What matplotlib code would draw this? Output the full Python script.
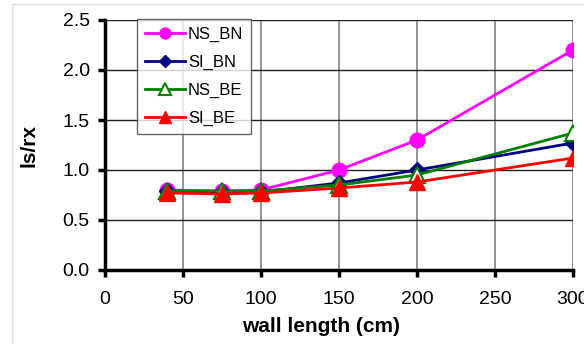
import matplotlib
matplotlib.use('Agg')
import matplotlib.pyplot as plt
from matplotlib.patches import Rectangle

plt.rcParams['font.family'] = ['Liberation Sans', 'DejaVu Sans']

# Data
wall_length = [40, 75, 100, 150, 200, 300]
ns_bn = [0.80, 0.79, 0.80, 1.00, 1.30, 2.20]
si_bn = [0.79, 0.78, 0.78, 0.87, 1.00, 1.27]
ns_be = [0.79, 0.79, 0.79, 0.85, 0.95, 1.37]
si_be = [0.77, 0.76, 0.77, 0.82, 0.88, 1.12]

x_ticks = [0, 50, 100, 150, 200, 250, 300]
y_ticks = [0.0, 0.5, 1.0, 1.5, 2.0, 2.5]

fig = plt.figure(figsize=(5.84, 3.44), dpi=100)
ax = fig.add_axes([105/584, 74/344, 468/584, 250/344])

# light outer frame
fig.patches.append(Rectangle((12/584, -0.1), 1.2, 340/344 + 0.1,
                             transform=fig.transFigure, fill=False,
                             edgecolor='#e0e0e0', lw=1))

ax.plot(wall_length, ns_bn, color='#ff00ff', marker='o', ms=10.5, lw=2, label='NS_BN', zorder=3)
ax.plot(wall_length, si_bn, color='#000080', marker='D', ms=8.5, lw=2, label='SI_BN', zorder=4)
ax.plot(wall_length, ns_be, color='#008000', marker='^', ms=11, lw=2, mfc='white',
        mew=1.5, label='NS_BE', zorder=5)
ax.plot(wall_length, si_be, color='#ff0000', marker='^', ms=12, lw=2, label='SI_BE', zorder=6)

ax.set_xlim(0, 300)
ax.set_ylim(0, 2.5)
ax.set_xticks(x_ticks)
ax.set_yticks(y_ticks)
ax.set_yticklabels([f'{v:.1f}' for v in y_ticks])
ax.tick_params(labelsize=14, width=2.5, length=5, direction='out', pad=6)
ax.tick_params(axis='x', pad=10)

ax.xaxis.grid(True, color='#808080', lw=1.2)
ax.yaxis.grid(True, color='#202020', lw=1)
ax.set_axisbelow(True)
ax.spines['top'].set_visible(False)
ax.spines['right'].set_visible(False)
ax.spines['left'].set_linewidth(2.5)
ax.spines['bottom'].set_linewidth(2.5)

ax.set_xlabel('wall length (cm)', fontsize=15, fontweight='bold')
ax.xaxis.label.set_va('center')
ax.xaxis.set_label_coords(0.4615, -(326 - 270)/250, transform=ax.transAxes)
ax.set_ylabel('ls/rx', fontsize=15, fontweight='bold')
ax.yaxis.label.set_va('center')
ax.yaxis.set_label_coords((29 - 105)/468, 0.5, transform=ax.transAxes)

leg = ax.legend(loc='upper left', bbox_to_anchor=(32/468, 1.004), fontsize=12,
                frameon=True, fancybox=False, edgecolor='#404040', markerscale=0.75,
                handlelength=2.4, handletextpad=0.2, borderpad=0.45, labelspacing=0.78,
                borderaxespad=0)
leg.get_frame().set_linewidth(1)

fig.savefig('out.png', dpi=100)
